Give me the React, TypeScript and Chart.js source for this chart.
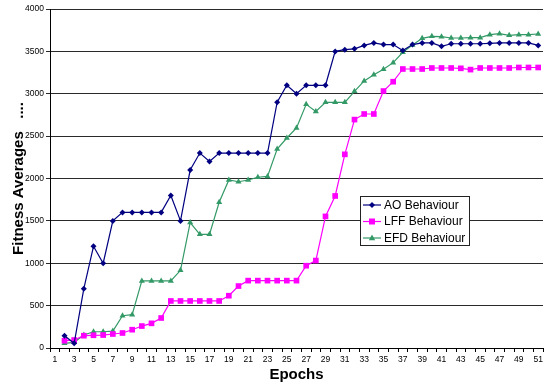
import React, { useEffect, useRef } from 'react';
import { Chart, registerables } from 'chart.js';

Chart.register(...registerables);

const epochs = ['1','2','3','4','5','6','7','8','9','10','11','12','13','14','15','16','17','18','19','20','21','22','23','24','25','26','27','28','29','30','31','32','33','34','35','36','37','38','39','40','41','42','43','44','45','46','47','48','49','50','51'];

// values for epochs 2..51 (epoch 1 has no value)
const aoValues = [145,55,700,1200,1000,1500,1600,1600,1600,1600,1600,1800,1500,2100,2300,2200,2300,2300,2300,2300,2300,2300,2900,3100,3000,3100,3100,3100,3500,3520,3530,3570,3600,3580,3580,3510,3580,3600,3600,3560,3590,3590,3590,3590,3595,3600,3600,3600,3600,3570];
const lffValues = [86,94,145,150,153,165,177,216,259,291,354,555,555,555,555,555,555,617,731,795,795,795,795,795,795,971,1032,1553,1794,2285,2695,2761,2761,3032,3142,3292,3292,3292,3304,3304,3304,3300,3285,3304,3304,3304,3304,3310,3310,3310];
const efdValues = [55,67,153,192,192,200,381,393,792,792,792,792,917,1480,1341,1341,1719,1982,1962,1982,2015,2025,2348,2478,2596,2875,2792,2899,2899,2899,3029,3151,3225,3288,3367,3489,3575,3654,3678,3674,3658,3658,3662,3662,3697,3709,3690,3697,3697,3705];

const seriesNames = ['AO Behaviour', 'LFF Behaviour', 'EFD Behaviour'];
const seriesColors = ['#000080', '#FF00FF', '#339966'];
const seriesMarkers = ['rectRot', 'rect', 'triangle'];

const FONT = "'Liberation Sans', Arial, sans-serif";

function drawMarker(ctx: CanvasRenderingContext2D, kind: string, x: number, y: number, color: string) {
  ctx.save();
  ctx.fillStyle = color;
  ctx.beginPath();
  if (kind === 'rectRot') {
    ctx.moveTo(x, y - 3);
    ctx.lineTo(x + 3, y);
    ctx.lineTo(x, y + 3);
    ctx.lineTo(x - 3, y);
  } else if (kind === 'rect') {
    ctx.rect(x - 3, y - 3, 6, 6);
  } else {
    ctx.moveTo(x, y - 3.5);
    ctx.lineTo(x + 3.2, y + 2.3);
    ctx.lineTo(x - 3.2, y + 2.3);
  }
  ctx.closePath();
  ctx.fill();
  ctx.restore();
}

const legendPlugin = {
  id: 'boxLegend',
  afterDraw(chart: any) {
    const ctx: CanvasRenderingContext2D = chart.ctx;
    const bx = 360.5, by = 196.5, bw = 109, bh = 49;
    ctx.save();
    ctx.fillStyle = '#ffffff';
    ctx.fillRect(bx, by, bw, bh);
    ctx.strokeStyle = '#222';
    ctx.lineWidth = 1;
    ctx.strokeRect(bx, by, bw, bh);
    ctx.font = `12px ${FONT}`;
    ctx.textBaseline = 'middle';
    ctx.textAlign = 'left';
    chart.data.datasets.forEach((ds: any, i: number) => {
      const ry = 205 + i * 16.5;
      ctx.strokeStyle = ds.borderColor;
      ctx.lineWidth = 1.2;
      ctx.beginPath();
      ctx.moveTo(363, ry);
      ctx.lineTo(381, ry);
      ctx.stroke();
      drawMarker(ctx, seriesMarkers[i], 372, ry, ds.borderColor);
      ctx.fillStyle = '#000';
      ctx.fillText(ds.label, 384, ry + 0.5);
    });
    ctx.restore();
  },
};

export default function App() {
  const ref = useRef<HTMLCanvasElement | null>(null);
  useEffect(() => {
    document.body.style.margin = '0';
    const canvas = ref.current;
    if (!canvas) return;
    const series = [aoValues, lffValues, efdValues];
    const chart = new Chart(canvas, {
      type: 'line',
      data: {
        labels: epochs,
        datasets: series.map((vals, i) => ({
          label: seriesNames[i],
          data: [null, ...vals],
          borderColor: seriesColors[i],
          backgroundColor: seriesColors[i],
          borderWidth: 1.2,
          pointStyle: seriesMarkers[i] as any,
          pointRadius: i === 0 ? 3 : i === 1 ? 4 : 3.5,
          pointBorderWidth: 0,
          pointBackgroundColor: seriesColors[i],
          tension: 0,
          fill: false,
        })),
      },
      options: {
        responsive: false,
        animation: false,
        devicePixelRatio: 1,
        layout: { padding: { top: 9, right: 2, left: 0, bottom: 0 } },
        plugins: {
          legend: { display: false },
          tooltip: { enabled: false },
        },
        scales: {
          x: {
            type: 'category',
            offset: true,
            afterFit: (s: any) => { s.height = 40; },
            grid: {
              offset: true,
              drawOnChartArea: false,
              drawTicks: true,
              tickLength: 4,
              color: '#000',
            },
            border: { color: '#000', width: 1 },
            ticks: {
              autoSkip: false,
              maxRotation: 0,
              minRotation: 0,
              padding: 3,
              color: '#000',
              font: { family: FONT, size: 8.5 },
              callback: (_v: any, idx: number) => (idx % 2 === 0 ? epochs[idx] : ''),
            },
            title: {
              display: true,
              text: 'Epochs',
              color: '#000',
              font: { family: FONT, size: 15, weight: 'bold' },
              padding: { top: 0, bottom: 4 },
            },
          },
          y: {
            min: 0,
            max: 4000,
            afterFit: (s: any) => { s.width = 50; },
            grid: {
              color: '#2a2a2a',
              lineWidth: 1,
              tickLength: 4,
              drawTicks: true,
            },
            border: { color: '#000', width: 1 },
            ticks: {
              stepSize: 500,
              padding: 2,
              color: '#000',
              font: { family: FONT, size: 8.5 },
              callback: (v: any) => String(v),
            },
            title: {
              display: true,
              text: 'Fitness Averages   ....',
              color: '#000',
              font: { family: FONT, size: 15, weight: 'bold' },
              padding: { top: 10, bottom: 0 },
            },
          },
        },
      },
      plugins: [legendPlugin],
    });
    return () => chart.destroy();
  }, []);
  return (
    <div style={{ width: 547, height: 388, background: '#fff' }}>
      <canvas ref={ref} width={547} height={388} />
    </div>
  );
}
